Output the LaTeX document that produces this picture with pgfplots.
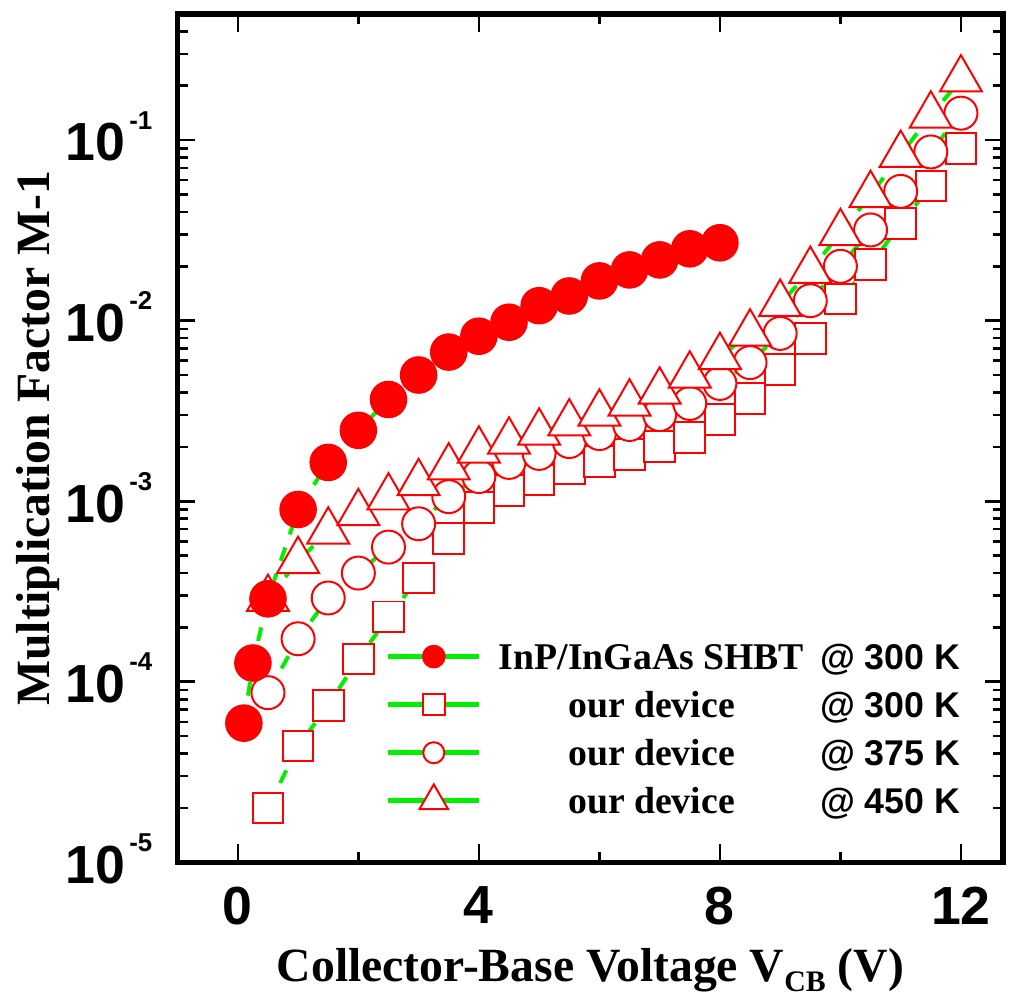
\documentclass[border=0pt]{standalone}
\usepackage{pgfplots}
\pgfplotsset{compat=1.18}
\usepackage{fontspec}
\setmainfont{Liberation Serif}
\setsansfont{Liberation Sans}
\definecolor{pred}{RGB}{255,0,0}
\definecolor{pgreen}{RGB}{0,240,0}
\newcommand\yl[1]{10\hspace{2pt}\raisebox{16pt}{\fontsize{13}{13}\selectfont -#1}}
\newlength\lw
\newcommand\lt[2]{\makebox[\lw][c]{#1}\hspace{8pt}{\sffamily\fontsize{18}{18}\selectfont #2}}
\begin{document}
\settowidth{\lw}{\fontsize{19}{19}\selectfont\bfseries InP/InGaAs SHBT}
\begin{tikzpicture}
\begin{axis}[name=ax,
  scale only axis, width=415.5pt, height=427pt,
  xmin=-1, xmax=12.7, ymode=log, ymin=1e-5, ymax=0.5,
  xtick={0,4,8,12}, xticklabels={0,4,8,12}, minor xtick={2,6,10},
  ytick={1e-5,1e-4,1e-3,1e-2,1e-1},
  yticklabels={\yl{5},\yl{4},\yl{3},\yl{2},\yl{1}},
  minor ytick={2e-5,3e-5,4e-5,5e-5,6e-5,7e-5,8e-5,9e-5,
               2e-4,3e-4,4e-4,5e-4,6e-4,7e-4,8e-4,9e-4,
               2e-3,3e-3,4e-3,5e-3,6e-3,7e-3,8e-3,9e-3,
               2e-2,3e-2,4e-2,5e-2,6e-2,7e-2,8e-2,9e-2,
               2e-1,3e-1,4e-1},
  tick align=inside,
  major tick length=9pt, minor tick length=5pt,
  every tick/.style={black, line width=1.3pt},
  axis line style={line width=2.8pt, line join=miter, line cap=rect},
  xticklabel style={font=\fontsize{27}{27}\selectfont\sffamily\bfseries, inner sep=0pt, anchor=north, yshift=-12pt},
  yticklabel style={font=\fontsize{27}{27}\selectfont\sffamily\bfseries, inner sep=0pt, anchor=base east, xshift=-12.5pt, yshift=-10.5pt},
  xlabel={Collector-Base Voltage V\raisebox{-5pt}{\fontsize{15}{15}\selectfont CB} (V)},
  ylabel={Multiplication Factor M-1},
  xlabel style={at={([yshift=-60pt]rel axis cs:0.5,0)}, anchor=base, inner sep=0pt, font=\fontsize{24}{24}\selectfont\bfseries},
  ylabel style={at={([xshift=-70pt]rel axis cs:0,0.5)}, anchor=center, inner sep=0pt, font=\fontsize{24}{24}\selectfont\bfseries},
  legend image code/.code={\draw[mark repeat=2,mark phase=2,#1] plot coordinates {(0pt,0pt) (23pt,0pt) (46pt,0pt)};},
  legend cell align=left,
  legend style={at={(rel axis cs:0.252,0.2665)}, anchor=north west, draw=none, fill=none,
    inner sep=0pt, outer sep=0pt, row sep=3.7pt, column sep=8.5pt,
    nodes={inner sep=0pt, text height=16.5pt, text depth=4pt, font=\fontsize{19}{19}\selectfont\bfseries}},
]
% green dashed connecting lines
\addplot[forget plot, pgreen, line width=2pt, dash pattern=on 7pt off 7pt] coordinates {
(0.1,5.9e-5)(0.25,1.27e-4)(0.5,2.88e-4)(1,9.0e-4)(1.5,1.64e-3)(2,2.47e-3)(2.5,3.66e-3)(3,5.0e-3)(3.5,6.7e-3)(4,8.2e-3)(4.5,9.8e-3)(5,1.21e-2)(5.5,1.37e-2)(6,1.66e-2)(6.5,1.91e-2)(7,2.17e-2)(7.5,2.5e-2)(8,2.7e-2)};
\addplot[forget plot, pgreen, line width=2pt, dash pattern=on 7pt off 7pt] coordinates {
(0.5,2.0e-5)(1,4.4e-5)(1.5,7.4e-5)(2,1.34e-4)(2.5,2.29e-4)(3,3.76e-4)(3.5,6.2e-4)(4,9.2e-4)(4.5,1.15e-3)(5,1.31e-3)(5.5,1.52e-3)(6,1.66e-3)(6.5,1.82e-3)(7,2.01e-3)(7.5,2.26e-3)(8,2.84e-3)(8.5,3.7e-3)(9,5.36e-3)(9.5,7.96e-3)(10,1.32e-2)(10.5,2.04e-2)(11,3.44e-2)(11.5,5.57e-2)(12,9.0e-2)};
\addplot[forget plot, pgreen, line width=2pt, dash pattern=on 7pt off 7pt] coordinates {
(0.5,8.7e-5)(1,1.73e-4)(1.5,2.91e-4)(2,4.0e-4)(2.5,5.57e-4)(3,7.5e-4)(3.5,1.06e-3)(4,1.37e-3)(4.5,1.64e-3)(5,1.84e-3)(5.5,2.14e-3)(6,2.37e-3)(6.5,2.66e-3)(7,3.02e-3)(7.5,3.48e-3)(8,4.49e-3)(8.5,5.86e-3)(9,8.5e-3)(9.5,1.29e-2)(10,2.0e-2)(10.5,3.18e-2)(11,5.2e-2)(11.5,8.6e-2)(12,0.141)};
\addplot[forget plot, pgreen, line width=2pt, dash pattern=on 7pt off 7pt] coordinates {
(0.5,2.88e-4)(1,4.67e-4)(1.5,6.8e-4)(2,8.6e-4)(2.5,1.05e-3)(3,1.26e-3)(3.5,1.54e-3)(4,1.91e-3)(4.5,2.14e-3)(5,2.40e-3)(5.5,2.70e-3)(6,3.06e-3)(6.5,3.48e-3)(7,4.05e-3)(7.5,4.97e-3)(8,6.3e-3)(8.5,8.5e-3)(9,1.24e-2)(9.5,1.89e-2)(10,3.06e-2)(10.5,4.97e-2)(11,8.3e-2)(11.5,0.137)(12,0.217)};
% markers
\addplot[forget plot, only marks, mark=square*, mark size=7.7pt, mark options={draw=pred, fill=white, line width=1pt}] coordinates {
(0.5,2.0e-5)(1,4.4e-5)(1.5,7.4e-5)(2,1.34e-4)(2.5,2.29e-4)(3,3.76e-4)(3.5,6.2e-4)(4,9.2e-4)(4.5,1.15e-3)(5,1.31e-3)(5.5,1.52e-3)(6,1.66e-3)(6.5,1.82e-3)(7,2.01e-3)(7.5,2.26e-3)(8,2.84e-3)(8.5,3.7e-3)(9,5.36e-3)(9.5,7.96e-3)(10,1.32e-2)(10.5,2.04e-2)(11,3.44e-2)(11.5,5.57e-2)(12,9.0e-2)};
\addplot[forget plot, only marks, mark=*, mark size=8.3pt, mark options={draw=pred, fill=white, line width=1pt}] coordinates {
(0.5,8.7e-5)(1,1.73e-4)(1.5,2.91e-4)(2,4.0e-4)(2.5,5.57e-4)(3,7.5e-4)(3.5,1.06e-3)(4,1.37e-3)(4.5,1.64e-3)(5,1.84e-3)(5.5,2.14e-3)(6,2.37e-3)(6.5,2.66e-3)(7,3.02e-3)(7.5,3.48e-3)(8,4.49e-3)(8.5,5.86e-3)(9,8.5e-3)(9.5,1.29e-2)(10,2.0e-2)(10.5,3.18e-2)(11,5.2e-2)(11.5,8.6e-2)(12,0.141)};
\addplot[forget plot, only marks, mark=triangle*, mark size=12.2pt, mark options={draw=pred, fill=white, line width=1pt}] coordinates {
(0.5,2.88e-4)(1,4.67e-4)(1.5,6.8e-4)(2,8.6e-4)(2.5,1.05e-3)(3,1.26e-3)(3.5,1.54e-3)(4,1.91e-3)(4.5,2.14e-3)(5,2.40e-3)(5.5,2.70e-3)(6,3.06e-3)(6.5,3.48e-3)(7,4.05e-3)(7.5,4.97e-3)(8,6.3e-3)(8.5,8.5e-3)(9,1.24e-2)(9.5,1.89e-2)(10,3.06e-2)(10.5,4.97e-2)(11,8.3e-2)(11.5,0.137)(12,0.217)};
\addplot[forget plot, only marks, mark=*, mark size=9.2pt, mark options={draw=pred, fill=pred, line width=0.5pt}] coordinates {
(0.1,5.9e-5)(0.25,1.27e-4)(0.5,2.88e-4)(1,9.0e-4)(1.5,1.64e-3)(2,2.47e-3)(2.5,3.66e-3)(3,5.0e-3)(3.5,6.7e-3)(4,8.2e-3)(4.5,9.8e-3)(5,1.21e-2)(5.5,1.37e-2)(6,1.66e-2)(6.5,1.91e-2)(7,2.17e-2)(7.5,2.5e-2)(8,2.7e-2)};
% legend
\addlegendimage{pgreen, line width=2.5pt, solid, mark=*, mark size=5.7pt, mark options={draw=pred, fill=pred, line width=0.5pt}}
\addlegendentry{\lt{InP/InGaAs SHBT}{@ 300 K}}
\addlegendimage{pgreen, line width=2.5pt, solid, mark=square*, mark size=5.4pt, mark options={draw=pred, fill=white, line width=1pt}}
\addlegendentry{\lt{our device}{@ 300 K}}
\addlegendimage{pgreen, line width=2.5pt, solid, mark=*, mark size=5.3pt, mark options={draw=pred, fill=white, line width=1pt}}
\addlegendentry{\lt{our device}{@ 375 K}}
\addlegendimage{pgreen, line width=2.5pt, solid, mark=triangle*, mark size=8.3pt, mark options={draw=pred, fill=white, line width=1pt}}
\addlegendentry{\lt{our device}{@ 450 K}}
\end{axis}
\path ([xshift=9pt]ax.east);
\path ([yshift=7pt]ax.north);
\path ([yshift=-67pt]ax.south);
\path ([xshift=-6pt]current bounding box.west);
\end{tikzpicture}
\end{document}
